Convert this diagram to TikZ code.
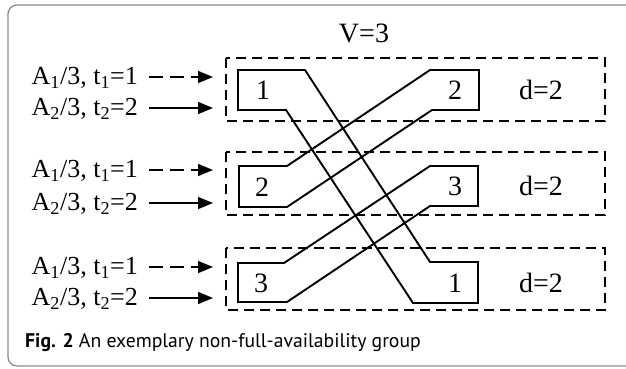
\documentclass[tikz,border=0pt]{standalone}
\usepackage{fontspec}
\setmainfont{Liberation Serif}
\newfontfamily\capfont{PT Sans}
\usetikzlibrary{arrows.meta}
\begin{document}
\begin{tikzpicture}[x=1pt,y=-1pt,
  rail/.style={draw, line width=1.9pt, line join=miter},
  grp/.style={draw, dash pattern=on 10pt off 6pt, line width=1.3pt},
  lbl/.style={font=\fontsize{26}{26}\selectfont, inner sep=0pt},
  num/.style={font=\fontsize{28}{28}\selectfont, inner sep=0pt},
  inarrow/.style={line width=1.5pt, -{Triangle[length=15pt,width=12pt]}},
  dasharrow/.style={inarrow, dash pattern=on 14pt off 7pt}]
\useasboundingbox (0,0) rectangle (626,368);
\draw[gray!90, line width=1.3pt, rounded corners=9pt] (8,5) rectangle (660,366);

% group boxes
\draw[grp] (226,58) rectangle (605,121);
\draw[grp] (226,152) rectangle (605,215);
\draw[grp] (226,248) rectangle (605,310);

% rails
\draw[rail] (238,70) -- (305,70) -- (430,262) -- (478,262) -- (478,303) -- (413,303) -- (286,110) -- (238,110) -- cycle;
\draw[rail] (479,70) -- (430,70) -- (287,166) -- (239,166) -- (239,207) -- (287,207) -- (432,110) -- (479,110) -- cycle;
\draw[rail] (478,166) -- (430,166) -- (284,263) -- (238,263) -- (238,302) -- (287,302) -- (430,206) -- (478,206) -- cycle;

% numbers
\node[num] (n1l) at (263,90) {1};
\node[num] (n2r) at (455,90) {2};
\node[num] (n2l) at (262,187) {2};
\node[num] (n3r) at (455,186) {3};
\node[num] (n3l) at (261,283) {3};
\node[num] (n1r) at (455,283) {1};

\node[num] (d1) at (541,90) {d=2};
\node[num] (d2) at (541,186) {d=2};
\node[num] (d3) at (541,283) {d=2};

\node[num] (V) at (364,33) {V=3};

% input labels and arrows
\foreach \r/\ya/\yb in {1/77/108, 2/170/203, 3/267/298} {
  \node[lbl, anchor=east] (a1r\r) at (138,\ya+1) {A\textsubscript{1}/3, t\textsubscript{1}=1};
  \node[lbl, anchor=east] (a2r\r) at (138,\yb+1) {A\textsubscript{2}/3, t\textsubscript{2}=2};
  \coordinate (e1r\r) at (213,\ya);
  \coordinate (e2r\r) at (213,\yb);
  \draw[dasharrow] (a1r\r.east |- e1r\r) ++(11,0) -- (e1r\r);
  \draw[inarrow] (a2r\r.east |- e2r\r) ++(11,0) -- (e2r\r);
}

% caption
\node[anchor=base west, inner sep=0pt, font=\capfont\fontsize{19.7}{19.7}\selectfont] (cap) at (25,347)
  {\textbf{Fig. 2} An exemplary non-full-availability group};
\end{tikzpicture}
\end{document}
